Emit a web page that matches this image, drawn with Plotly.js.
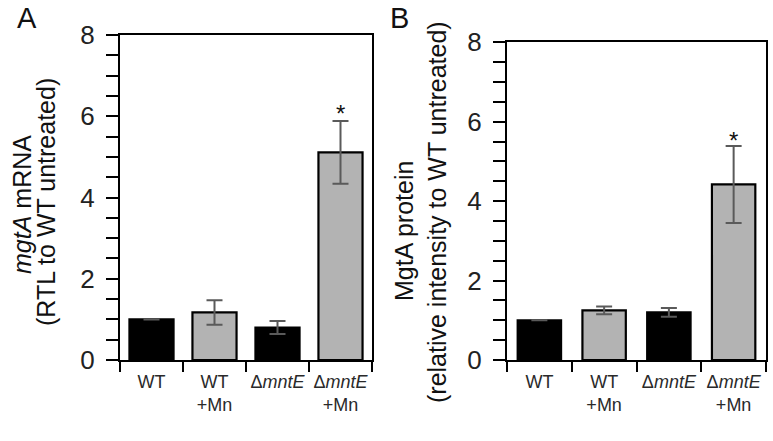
<!DOCTYPE html>
<html>
<head>
<meta charset="utf-8">
<script src="https://cdn.plot.ly/plotly-3.0.1.min.js"></script>
<style>
  html, body { margin: 0; padding: 0; background: #fff; }
  #chart { width: 773px; height: 441px; }
</style>
</head>
<body>
<div id="chart"></div>
<script>
// ---- data ----
const categories = ["WT", "WT<br>+Mn", "Δ<i>mntE</i>", "Δ<i>mntE</i><br>+Mn"];
const mrnaValues = [1.0, 1.17, 0.80, 5.11];
const mrnaErrors = [0, 0.30, 0.16, 0.77];
const proteinValues = [1.0, 1.25, 1.20, 4.42];
const proteinErrors = [0, 0.10, 0.11, 0.97];
const yTickVals = [0, 0.5, 1, 1.5, 2, 2.5, 3, 3.5, 4, 4.5, 5, 5.5, 6, 6.5, 7, 7.5, 8];
const yTickText = ["0", "", "", "", "2", "", "", "", "4", "", "", "", "6", "", "", "", "8"];
const significantIndex = 3;
const panelLabels = ["A", "B"];
const mrnaTitle = ["<i>mgtA</i> mRNA", "(RTL to WT untreated)"];
const proteinTitle = ["MgtA protein", "(relative intensity to WT untreated)"];

// ---- styles ----
const W = 773, H = 441;
const barColors = ["#000000", "#b3b3b3", "#000000", "#b3b3b3"];
const font = "Liberation Sans, Arial, Helvetica, sans-serif";
const errStyle = {type: "data", visible: true, color: "#5a5a5a", thickness: 2, width: 8};

function px(x) { return x / W; }
function py(y) { return 1 - y / H; }

const traces = [
  {
    type: "bar", x: categories, y: mrnaValues, xaxis: "x", yaxis: "y",
    width: 0.70,
    marker: {color: barColors, line: {color: "#000", width: 2.2}},
    error_y: Object.assign({array: mrnaErrors}, errStyle),
    hoverinfo: "skip"
  },
  {
    type: "bar", x: categories, y: proteinValues, xaxis: "x2", yaxis: "y2",
    width: 0.67,
    marker: {color: barColors, line: {color: "#000", width: 2.2}},
    error_y: Object.assign({array: proteinErrors}, errStyle),
    hoverinfo: "skip"
  }
];

function xAxis(domain, anchor) {
  return {
    domain: domain, anchor: anchor, type: "category", range: [-0.5, 3.5],
    showline: true, mirror: true, linecolor: "#000", linewidth: 2,
    ticks: "outside", tickson: "boundaries", ticklen: 10, tickwidth: 2, tickcolor: "#000",
    tickangle: 0, ticklabelstandoff: 4,
    tickfont: {family: font, size: 18, color: "#2a2a2a"},
    showgrid: false, zeroline: false, fixedrange: true
  };
}
function yAxis(domain, anchor) {
  return {
    domain: domain, anchor: anchor, range: [0, 8],
    tickmode: "array", tickvals: yTickVals, ticktext: yTickText,
    showline: true, mirror: true, linecolor: "#000", linewidth: 2,
    ticks: "outside", ticklen: 12, tickwidth: 2, tickcolor: "#000",
    ticklabelstandoff: 6,
    tickfont: {family: font, size: 26, color: "#222"},
    showgrid: false, zeroline: false, fixedrange: true
  };
}

const annFont = (s) => ({family: font, size: s, color: "#111"});
const annotations = [
  {xref: "paper", yref: "paper", x: px(27), y: py(18), text: panelLabels[0], showarrow: false,
   xanchor: "center", yanchor: "middle", font: annFont(29)},
  {xref: "paper", yref: "paper", x: px(399), y: py(18), text: panelLabels[1], showarrow: false,
   xanchor: "center", yanchor: "middle", font: annFont(29)},
  {xref: "paper", yref: "paper", x: px(22), y: py(205), text: mrnaTitle[0], textangle: -90, showarrow: false,
   xanchor: "center", yanchor: "middle", font: annFont(25)},
  {xref: "paper", yref: "paper", x: px(46), y: py(202), text: mrnaTitle[1], textangle: -90, showarrow: false,
   xanchor: "center", yanchor: "middle", font: annFont(25)},
  {xref: "paper", yref: "paper", x: px(404), y: py(231), text: proteinTitle[0], textangle: -90, showarrow: false,
   xanchor: "center", yanchor: "middle", font: annFont(25)},
  {xref: "paper", yref: "paper", x: px(437), y: py(212), text: proteinTitle[1], textangle: -90, showarrow: false,
   xanchor: "center", yanchor: "middle", font: annFont(25)},
  {xref: "x", yref: "y", x: categories[significantIndex],
   y: mrnaValues[significantIndex] + mrnaErrors[significantIndex],
   text: "*", showarrow: false, xanchor: "center", yanchor: "middle", yshift: 8, font: annFont(24)},
  {xref: "x2", yref: "y2", x: categories[significantIndex],
   y: proteinValues[significantIndex] + proteinErrors[significantIndex],
   text: "*", showarrow: false, xanchor: "center", yanchor: "middle", yshift: 5, font: annFont(24)}
];

const layout = {
  width: W, height: H,
  margin: {l: 0, r: 0, t: 0, b: 0, pad: 0},
  paper_bgcolor: "#fff", plot_bgcolor: "#fff",
  showlegend: false,
  font: {family: font, color: "#222"},
  xaxis: xAxis([px(120), px(372)], "y"),
  yaxis: yAxis([py(360), py(35)], "x"),
  xaxis2: xAxis([px(507), px(766)], "y2"),
  yaxis2: yAxis([py(360), py(42.3)], "x2"),
  annotations: annotations
};

Plotly.newPlot("chart", traces, layout, {staticPlot: true, displayModeBar: false});
</script>
</body>
</html>
